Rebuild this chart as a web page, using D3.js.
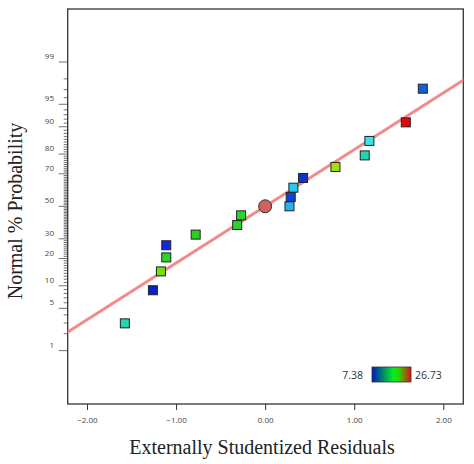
<!DOCTYPE html>
<meta charset="utf-8">
<html>
<head>
<script src="https://cdn.jsdelivr.net/npm/d3@7"></script>
<style>
  body { margin: 0; background: #fff; }
</style>
</head>
<body>
<svg id="chart"></svg>
<script>
// residual, normal % probability, point colour
var residuals = [-1.575, -1.26, -1.17, -1.11, -1.11, -0.78, -0.314, -0.27, 0.273, 0.287, 0.317, 0.426, 0.789, 1.118, 1.17, 1.579, 1.77];
var probs = [2.96, 8.8, 14.7, 20.5, 26.5, 32.4, 38.1, 44.2, 50, 56, 61.8, 67.6, 73.7, 79.4, 85.4, 91.2, 97.1];
var pointColors = ["#22d4b0", "#0a1ed0", "#6ee010", "#28d628", "#1428e0", "#2ad020", "#30d030", "#28d828", "#28b4ea", "#1040d8", "#28c8f0", "#1034c8", "#a4e010", "#22d4b0", "#38e4e4", "#e00808", "#1060e0"];
var centerPoint = [0, 50];
var lineEnds = [[-2.3, -2.102], [2.3, 2.102]];  // residual vs z
var xTicks = [-2, -1, 0, 1, 2];
var yMajor = [1, 5, 10, 20, 30, 50, 70, 80, 90, 95, 99];
var legendMin = "7.38", legendMax = "26.73";

var w = 474, h = 464;
var svg = d3.select("#chart").attr("width", w).attr("height", h);

var pLeft = 67.7, pRight = 463.3, pTop = 9, pBottom = 404;

var x = d3.scaleLinear().domain([-2, 2]).range([87, 443.3]);
var zy = d3.scaleLinear().domain([0, 2.326]).range([206.3, 62]);
var y = function (p) { return zy(invNorm(p / 100)); };

// inverse normal CDF (Acklam)
function invNorm(p) {
    var a = [-39.6968302866538, 220.946098424521, -275.928510446969, 138.357751867269, -30.6647980661472, 2.50662827745924];
    var b = [-54.4760987982241, 161.585836858041, -155.698979859887, 66.8013118877197, -13.2806815528857];
    var c = [-0.00778489400243029, -0.322396458041136, -2.40075827716184, -2.54973253934373, 4.37466414146497, 2.93816398269878];
    var d = [0.00778469570904146, 0.32246712907004, 2.445134137143, 3.75440866190742];
    var q, r;
    if (p < 0.02425) {
        q = Math.sqrt(-2 * Math.log(p));
        return (((((c[0]*q+c[1])*q+c[2])*q+c[3])*q+c[4])*q+c[5]) / ((((d[0]*q+d[1])*q+d[2])*q+d[3])*q+1);
    } else if (p > 1 - 0.02425) {
        q = Math.sqrt(-2 * Math.log(1 - p));
        return -(((((c[0]*q+c[1])*q+c[2])*q+c[3])*q+c[4])*q+c[5]) / ((((d[0]*q+d[1])*q+d[2])*q+d[3])*q+1);
    }
    q = p - 0.5; r = q * q;
    return (((((a[0]*r+a[1])*r+a[2])*r+a[3])*r+a[4])*r+a[5])*q / (((((b[0]*r+b[1])*r+b[2])*r+b[3])*r+b[4])*r+1);
}

// frame
svg.append("rect").attr("x", pLeft).attr("y", pTop)
    .attr("width", pRight - pLeft).attr("height", pBottom - pTop)
    .attr("fill", "none").attr("stroke", "#333").attr("stroke-width", 1.3);

// y ticks (every 1%)
var minor = d3.range(1, 100);
svg.append("g").selectAll("line").data(minor).enter().append("line")
    .attr("x1", function (d) { return yMajor.indexOf(d) >= 0 ? pLeft - 9 : pLeft - 4; })
    .attr("x2", pLeft)
    .attr("y1", function (d) { return y(d); })
    .attr("y2", function (d) { return y(d); })
    .attr("stroke", "#333").attr("stroke-width", 0.7);
svg.append("g").selectAll("text").data(yMajor).enter().append("text")
    .attr("x", 54).attr("y", function (d) { return y(d) - 3; })
    .attr("text-anchor", "end")
    .attr("font-family", "Open Sans, sans-serif").attr("font-size", 8).attr("fill", "#444")
    .text(function (d) { return d; });

// x axis
var xAxis = svg.append("g").attr("transform", "translate(0," + pBottom + ")")
    .call(d3.axisBottom(x).tickValues(xTicks).tickSize(6).tickFormat(d3.format(".2f")));
xAxis.select(".domain").remove();
xAxis.selectAll("line").attr("stroke", "#333");
xAxis.selectAll("text").attr("font-family", "Open Sans, sans-serif").attr("font-size", 8).attr("fill", "#444").attr("dy", "1.3em");

// titles
svg.append("text").attr("x", 262).attr("y", 454).attr("text-anchor", "middle")
    .attr("font-family", "Liberation Serif, serif").attr("font-size", 20).attr("fill", "#222")
    .text("Externally Studentized Residuals");
svg.append("text").attr("transform", "translate(22,211) rotate(-90)").attr("text-anchor", "middle")
    .attr("font-family", "Liberation Serif, serif").attr("font-size", 20).attr("fill", "#222")
    .text("Normal % Probability");

// clip
svg.append("clipPath").attr("id", "clip").append("rect")
    .attr("x", pLeft).attr("y", pTop).attr("width", pRight - pLeft).attr("height", pBottom - pTop);

// fit line
svg.append("line").attr("clip-path", "url(#clip)")
    .attr("x1", x(lineEnds[0][0])).attr("y1", zy(lineEnds[0][1]))
    .attr("x2", x(lineEnds[1][0])).attr("y2", zy(lineEnds[1][1]))
    .attr("stroke", "#f28a8a").attr("stroke-width", 3);

// points
var s = 9;
svg.append("g").selectAll("rect").data(residuals).enter().append("rect")
    .attr("x", function (d) { return x(d) - s / 2; })
    .attr("y", function (d, i) { return y(probs[i]) - s / 2; })
    .attr("width", s).attr("height", s)
    .attr("fill", function (d, i) { return pointColors[i]; })
    .attr("stroke", "#222").attr("stroke-width", 1);
svg.append("circle").attr("cx", x(centerPoint[0])).attr("cy", y(centerPoint[1])).attr("r", 6.5)
    .attr("fill", "#d2605e").attr("stroke", "#333").attr("stroke-width", 1);

// legend
var grad = svg.append("defs").append("linearGradient").attr("id", "grad");
grad.append("stop").attr("offset", "0%").attr("stop-color", "#0018c0");
grad.append("stop").attr("offset", "55%").attr("stop-color", "#00f020");
grad.append("stop").attr("offset", "70%").attr("stop-color", "#30d000");
grad.append("stop").attr("offset", "100%").attr("stop-color", "#e01010");
svg.append("rect").attr("x", 372).attr("y", 367).attr("width", 39).attr("height", 15)
    .attr("fill", "url(#grad)").attr("stroke", "#333").attr("stroke-width", 0.8);
svg.append("text").attr("x", 363).attr("y", 378.5).attr("text-anchor", "end")
    .attr("font-family", "Open Sans, sans-serif").attr("font-size", 10.5).attr("fill", "#333").text(legendMin);
svg.append("text").attr("x", 415).attr("y", 378.5)
    .attr("font-family", "Open Sans, sans-serif").attr("font-size", 10.5).attr("fill", "#333").text(legendMax);
</script>
</body>
</html>
